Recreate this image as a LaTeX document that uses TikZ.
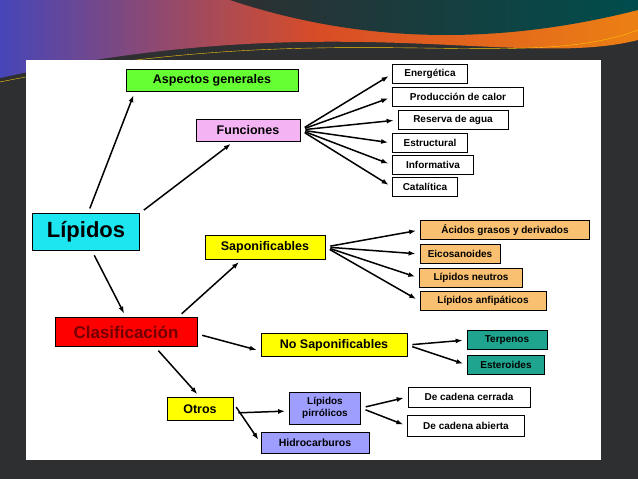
\documentclass[tikz,border=0pt]{standalone}
\usepackage{fontspec}
\setsansfont{Liberation Sans}
\usetikzlibrary{arrows.meta,positioning}
\definecolor{slide}{HTML}{2E2F31}
\definecolor{funcpink}{HTML}{F4B4F4}
\definecolor{satyel}{HTML}{FFFF00}
\definecolor{sapor}{HTML}{F8C070}
\definecolor{teal2}{HTML}{1FA58F}
\definecolor{lav}{HTML}{9E9EFF}
\definecolor{gen}{HTML}{66FF33}
\definecolor{lipcyan}{HTML}{1EE6F0}
\begin{document}
\begin{tikzpicture}[
    x=1pt, y=-1pt,
    >={Latex[length=7pt,width=5pt]},
    box/.style={draw, thick, font=\sffamily\bfseries\fontsize{12.5}{14}\selectfont, inner sep=0pt, minimum height=22pt},
    leaf/.style={draw, thick, fill=white, font=\sffamily\bfseries\fontsize{10}{11}\selectfont, inner sep=0pt, minimum height=19pt},
    arr/.style={->, line width=1.5pt, shorten <=5pt, shorten >=4pt}
]
% --- BACKGROUND ---
\useasboundingbox (0,0) rectangle (638,479);
\fill[slide] (0,0) rectangle (638,479);
\shade[left color=blue!45!gray, right color=orange!70!brown, middle color=red!40!brown]
  (0,0) -- (638,0) -- (638,40) .. controls (520,70) and (330,5) .. (0,78) -- cycle;
\shade[left color=slide, right color=teal!60!black]
  (230,0) -- (638,0) -- (638,10) .. controls (520,40) and (380,50) .. (230,0) -- cycle;
\draw[yellow!60!orange, thin] (0,82) .. controls (330,15) and (520,75) .. (638,30);
\fill[white] (26,60) rectangle (601,460);

% --- NODES ---
\node[box, fill=gen, minimum width=172pt] (gen) at (212,80) {Aspectos generales};
\node[box, fill=funcpink, minimum width=104pt] (func) at (248,130) {Funciones};
\node[box, fill=lipcyan, minimum width=107pt, minimum height=37pt, font=\sffamily\bfseries\fontsize{22}{24}\selectfont] (lip) at (86,232) {Lípidos};
\node[box, fill=satyel, minimum width=120pt, minimum height=24pt] (sap) at (265,247) {Saponificables};
\node[box, fill=red, text=red!45!black, minimum width=142pt, minimum height=29pt, font=\sffamily\bfseries\fontsize{17}{19}\selectfont] (clas) at (126,332) {Clasificación};
\node[box, fill=satyel, minimum width=146pt, minimum height=23pt] (nosap) at (334,345) {No Saponificables};
\node[box, fill=satyel, minimum width=66pt, minimum height=23pt] (otros) at (200,409) {Otros};
\node[box, fill=lav, minimum width=71pt, minimum height=32pt, align=center, font=\sffamily\bfseries\fontsize{10}{12}\selectfont] (pirr) at (325,408) {Lípidos\\pirrólicos};
\node[box, fill=lav, minimum width=108pt, minimum height=21pt, font=\sffamily\bfseries\fontsize{10.5}{12}\selectfont] (hidro) at (315,443) {Hidrocarburos};

% Funciones
\node[leaf, minimum width=75pt] (ener) at (430,74) {Energética};
\node[leaf, minimum width=131pt] (calor) at (458,97) {Producción de calor};
\node[leaf, minimum width=110pt] (agua) at (453,120) {Reserva de agua};
\node[leaf, minimum width=75pt] (estr) at (430,143) {Estructural};
\node[leaf, minimum width=81pt] (info) at (433,165) {Informativa};
\node[leaf, minimum width=65pt] (cata) at (425,187) {Catalítica};

% Saponificables
\node[leaf, fill=sapor, minimum width=169pt] (acid) at (505,230) {Ácidos grasos y derivados};
\node[leaf, fill=sapor, minimum width=80pt] (eico) at (460,254) {Eicosanoides};
\node[leaf, fill=sapor, minimum width=103pt] (neut) at (471,278) {Lípidos neutros};
\node[leaf, fill=sapor, minimum width=126pt] (anfi) at (483,301) {Lípidos anfipáticos};

% No saponificables
\node[leaf, fill=teal2, minimum width=80pt] (terp) at (507,340) {Terpenos};
\node[leaf, fill=teal2, minimum width=77pt] (este) at (506,365) {Esteroides};

% Pirrolicos
\node[leaf, minimum width=122pt, minimum height=20pt] (cerr) at (469,397) {De cadena cerrada};
\node[leaf, minimum width=117pt, minimum height=21pt] (abie) at (466,426) {De cadena abierta};

% --- EDGES ---
\draw[arr] ([xshift=2pt]lip.north) -- ([xshift=-77pt]gen.south);
\draw[arr] (lip.north east) -- ([xshift=-14pt]func.south);
\draw[arr] ([xshift=6pt]lip.south) -- (clas.north);
\draw[arr] ([xshift=52pt]clas.north) -- ([xshift=-23pt]sap.south);
\draw[arr] ([yshift=-2pt]clas.east) -- ([yshift=-6pt]nosap.west);
\draw[arr] ([xshift=29pt]clas.south) -- (otros.north);
\draw[arr] ([yshift=-4pt]otros.east) -- ([yshift=-3pt]pirr.west);
\draw[arr] ([yshift=6pt]otros.east) -- (hidro.west);
\foreach \t in {ener,calor,agua,estr,info,cata} \draw[arr] (func.east) -- (\t.west);
\foreach \t in {acid,eico,neut,anfi} \draw[arr] (sap.east) -- (\t.west);
\foreach \t in {terp,este} \draw[arr] (nosap.east) -- (\t.west);
\foreach \t in {cerr,abie} \draw[arr] (pirr.east) -- (\t.west);
\end{tikzpicture}
\end{document}
